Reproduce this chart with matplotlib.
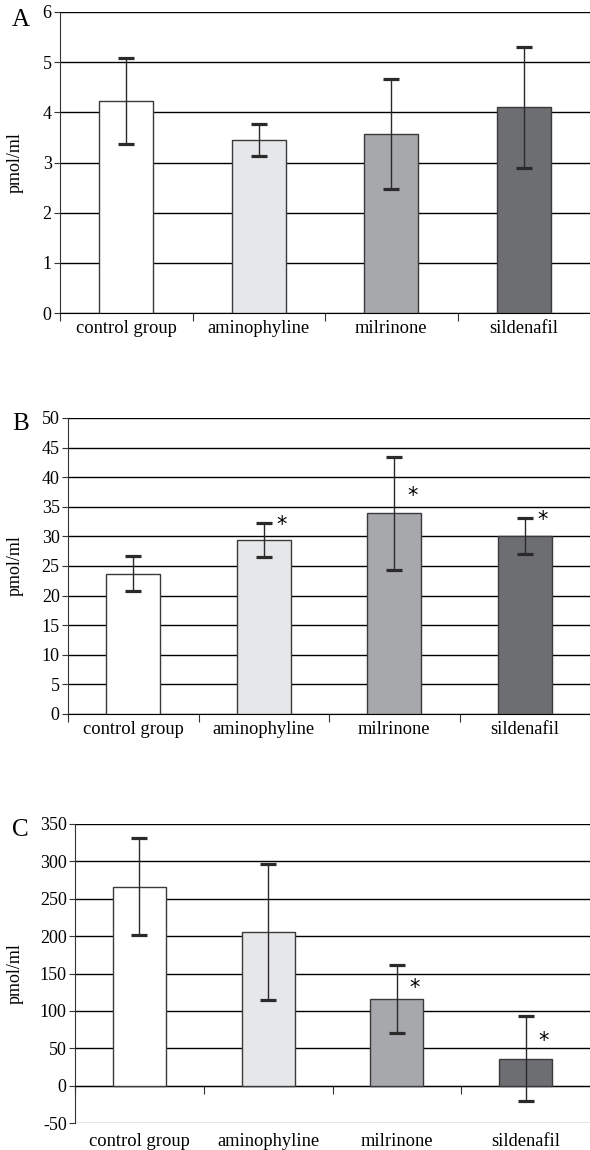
import matplotlib
matplotlib.use("Agg")
import matplotlib.pyplot as plt
import numpy as np

# groups shown in every panel
groups = ["control group", "aminophyline", "milrinone", "sildenafil"]
bar_colors = ["#ffffff", "#e6e7e9", "#a7a8ac", "#6d6e71"]

# panel A
a_mean = [4.23, 3.45, 3.57, 4.10]
a_err = [0.86, 0.32, 1.10, 1.20]
a_star = [None, None, None, None]

# panel B
b_mean = [23.7, 29.4, 33.9, 30.1]
b_err = [3.0, 2.8, 9.5, 3.0]
b_star = [None, 32.0, 36.9, 32.8]

# panel C
c_mean = [266, 206, 116, 36]
c_err = [65, 91, 45, 57]
c_star = [None, None, 131, 60]

plt.rcParams['font.family'] = ['Liberation Serif', 'DejaVu Serif']
plt.rcParams['axes.unicode_minus'] = False

fig = plt.figure(figsize=(5.9, 11.5), dpi=100)


def panel(rect, letter, letter_y, mean, err, star, ymin, ymax, step,
          zero_axis=False):
    ax = fig.add_axes(rect)
    x = np.arange(len(groups))
    ax.bar(x, mean, width=0.41, color=bar_colors, edgecolor="#3a3a3a",
           linewidth=1.0, zorder=3)
    ax.errorbar(x, mean, yerr=err, fmt='none', ecolor="#2a2a2a",
                elinewidth=1.0, capsize=5.8, capthick=2.3, zorder=4)
    for xi, s in zip(x, star):
        if s is not None:
            ax.text(xi + 0.1, s, '*', family='DejaVu Sans', fontsize=15,
                    ha='left', va='center', zorder=5)
    ax.set_xlim(-0.5, 3.5)
    ax.set_ylim(ymin, ymax)
    ax.set_yticks(np.arange(ymin, ymax + step / 2, step))
    ax.yaxis.grid(True, color='black', linewidth=1.0, zorder=0)
    ax.set_axisbelow(True)
    for side in ['top', 'right']:
        ax.spines[side].set_visible(False)
    ax.spines['left'].set_color('#333333')
    ax.tick_params(axis='y', direction='out', length=4, labelsize=13,
                   color='#333333', pad=2)
    # ticks between categories, labels under categories
    ax.set_xticks([-0.5, 0.5, 1.5, 2.5])
    ax.set_xticklabels([])
    ax.set_xticks(x, minor=True)
    ax.set_xticklabels(groups, minor=True)
    ax.tick_params(axis='x', which='major', direction='out', length=6,
                   color='#333333')
    ax.spines['bottom'].set_color('black')
    if zero_axis:
        ax.spines['bottom'].set_position(('data', 0))
        ax.get_ygridlines()[0].set_color('#777777')
        ax.tick_params(axis='x', which='minor', length=0, labelsize=13.3,
                       pad=34)
    else:
        ax.tick_params(axis='x', which='minor', length=0, labelsize=13.3,
                       pad=5)
    ax.set_ylabel('pmol/ml', fontsize=13)
    left_px = rect[0] * 590
    width_px = rect[2] * 590
    ax.yaxis.set_label_coords(-(left_px - 24) / width_px, 0.5)
    fig.text(12 / 590, 1 - letter_y / 1150, letter, fontsize=18,
             ha='left', va='center')
    return ax


panel([60 / 590, 1 - 313 / 1150, 530 / 590, 301 / 1150], 'A', 20,
      a_mean, a_err, a_star, 0, 6, 1)
panel([68 / 590, 1 - 714 / 1150, 522 / 590, 296 / 1150], 'B', 424,
      b_mean, b_err, b_star, 0, 50, 5)
panel([75 / 590, 1 - 1123 / 1150, 515 / 590, 299 / 1150], 'C', 830,
      c_mean, c_err, c_star, -50, 350, 50, zero_axis=True)

fig.savefig('out.png', dpi=100)
